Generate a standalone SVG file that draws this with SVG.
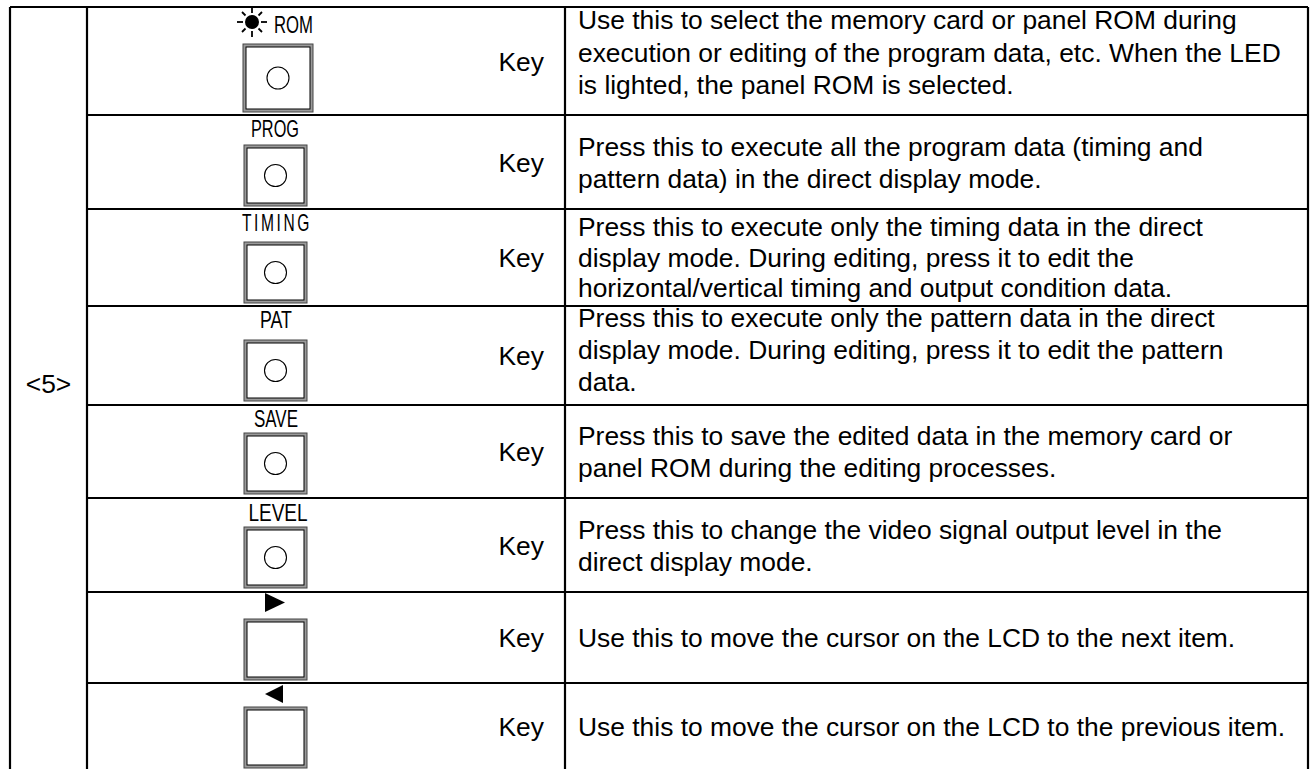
<svg xmlns="http://www.w3.org/2000/svg" width="1313" height="769" viewBox="0 0 1313 769">
  <style>
    .grid { stroke: #000; stroke-width: 2.2; fill: none; }
    .desc { font-family: "Liberation Sans", Arial, sans-serif; font-size: 26.4px; fill: #000; }
    .key { font-family: "Liberation Sans", Arial, sans-serif; font-size: 26.4px; fill: #000; text-anchor: end; }
    .lbl { font-family: "Liberation Sans Narrow", "Liberation Sans", Arial, sans-serif; font-size: 24px; fill: #000; }
    .cap-o { fill: #9a9a9a; stroke: #444; stroke-width: 1; }
    .cap-i { fill: #fff; stroke: #000; stroke-width: 1; }
    .led { fill: none; stroke: #000; stroke-width: 1.1; }
    .ray { stroke: #000; stroke-width: 1.8; stroke-linecap: butt; }
  </style>
  <defs>
    <!-- plain square key cap -->
    <g id="cap">
      <rect class="cap-o" x="0" y="0" width="63" height="61"/>
      <rect class="cap-i" x="3" y="3" width="57" height="55"/>
    </g>
    <!-- key cap with LED ring -->
    <g id="cap-led">
      <use href="#cap"/>
      <circle class="led" cx="31.5" cy="30.5" r="11"/>
    </g>
  </defs>

  <rect width="1313" height="769" fill="#fff"/>

  <!-- table grid -->
  <g id="grid" class="grid">
    <line x1="10" y1="7" x2="1308" y2="7"/>
    <line x1="10" y1="7" x2="10" y2="769"/>
    <line x1="87" y1="7" x2="87" y2="769"/>
    <line x1="565" y1="7" x2="565" y2="769"/>
    <line x1="1308" y1="7" x2="1308" y2="769"/>
    <line x1="87" y1="115" x2="1308" y2="115"/>
    <line x1="87" y1="209" x2="1308" y2="209"/>
    <line x1="87" y1="306" x2="1308" y2="306"/>
    <line x1="87" y1="405" x2="1308" y2="405"/>
    <line x1="87" y1="498" x2="1308" y2="498"/>
    <line x1="87" y1="592" x2="1308" y2="592"/>
    <line x1="87" y1="683" x2="1308" y2="683"/>
  </g>

  <g id="section">
    <text class="desc" x="48.5" y="393" text-anchor="middle">&lt;5&gt;</text>
  </g>

  <!-- ROM key -->
  <g id="key-rom">
    <g id="sun">
      <circle cx="252" cy="22" r="7" fill="#000"/>
      <line class="ray" x1="237" y1="22" x2="243" y2="22"/>
      <line class="ray" x1="261" y1="22" x2="267" y2="22"/>
      <line class="ray" x1="252" y1="7" x2="252" y2="13"/>
      <line class="ray" x1="252" y1="31" x2="252" y2="37"/>
      <line class="ray" x1="242" y1="12" x2="245.5" y2="15.5"/>
      <line class="ray" x1="258.5" y1="28.5" x2="262" y2="32"/>
      <line class="ray" x1="262" y1="12" x2="258.5" y2="15.5"/>
      <line class="ray" x1="245.5" y1="28.5" x2="242" y2="32"/>
    </g>
    <text class="lbl" x="274" y="33" textLength="39" lengthAdjust="spacingAndGlyphs">ROM</text>
    <rect class="cap-o" x="243" y="44" width="70" height="68"/>
    <rect class="cap-i" x="246" y="47" width="64" height="62"/>
    <circle class="led" cx="278" cy="78" r="11"/>
    <text class="key" x="544" y="70.5">Key</text>
    <text class="desc" x="578" y="29">Use this to select the memory card or panel ROM during</text>
    <text class="desc" x="578" y="61.5">execution or editing of the program data, etc. When the LED</text>
    <text class="desc" x="578" y="94">is lighted, the panel ROM is selected.</text>
  </g>

  <!-- PROG key -->
  <g id="key-prog">
    <text class="lbl" x="275" y="137" text-anchor="middle" textLength="48" lengthAdjust="spacingAndGlyphs">PROG</text>
    <use href="#cap-led" x="244" y="145"/>
    <text class="key" x="544" y="171.5">Key</text>
    <text class="desc" x="578" y="155.5">Press this to execute all the program data (timing and</text>
    <text class="desc" x="578" y="187.5">pattern data) in the direct display mode.</text>
  </g>

  <!-- TIMING key -->
  <g id="key-timing">
    <text class="lbl" x="277" y="231" text-anchor="middle" textLength="70" lengthAdjust="spacingAndGlyphs" letter-spacing="4">TIMING</text>
    <use href="#cap-led" x="244" y="242"/>
    <text class="key" x="544" y="267">Key</text>
    <text class="desc" x="578" y="236">Press this to execute only the timing data in the direct</text>
    <text class="desc" x="578" y="266.5">display mode. During editing, press it to edit the</text>
    <text class="desc" x="578" y="297">horizontal/vertical timing and output condition data.</text>
  </g>

  <!-- PAT key -->
  <g id="key-pat">
    <text class="lbl" x="276" y="328" text-anchor="middle" textLength="32" lengthAdjust="spacingAndGlyphs">PAT</text>
    <use href="#cap-led" x="244" y="340"/>
    <text class="key" x="544" y="365">Key</text>
    <text class="desc" x="578" y="327">Press this to execute only the pattern data in the direct</text>
    <text class="desc" x="578" y="359">display mode. During editing, press it to edit the pattern</text>
    <text class="desc" x="578" y="391">data.</text>
  </g>

  <!-- SAVE key -->
  <g id="key-save">
    <text class="lbl" x="276" y="427" text-anchor="middle" textLength="44" lengthAdjust="spacingAndGlyphs">SAVE</text>
    <use href="#cap-led" x="244" y="433"/>
    <text class="key" x="544" y="461">Key</text>
    <text class="desc" x="578" y="445">Press this to save the edited data in the memory card or</text>
    <text class="desc" x="578" y="477">panel ROM during the editing processes.</text>
  </g>

  <!-- LEVEL key -->
  <g id="key-level">
    <text class="lbl" x="278" y="521" text-anchor="middle" textLength="59" lengthAdjust="spacingAndGlyphs">LEVEL</text>
    <use href="#cap-led" x="244" y="527"/>
    <text class="key" x="544" y="554.5">Key</text>
    <text class="desc" x="578" y="538.5">Press this to change the video signal output level in the</text>
    <text class="desc" x="578" y="570.5">direct display mode.</text>
  </g>

  <!-- cursor right key -->
  <g id="key-right">
    <polygon points="265,593 265,612 285,602.5" fill="#000"/>
    <use href="#cap" x="244" y="619"/>
    <text class="key" x="544" y="647">Key</text>
    <text class="desc" x="578" y="647">Use this to move the cursor on the LCD to the next item.</text>
  </g>

  <!-- cursor left key -->
  <g id="key-left">
    <polygon points="283,685 283,703 265,694" fill="#000"/>
    <use href="#cap" x="244" y="707"/>
    <text class="key" x="544" y="735.5">Key</text>
    <text class="desc" x="578" y="735.5">Use this to move the cursor on the LCD to the previous item.</text>
  </g>
</svg>
